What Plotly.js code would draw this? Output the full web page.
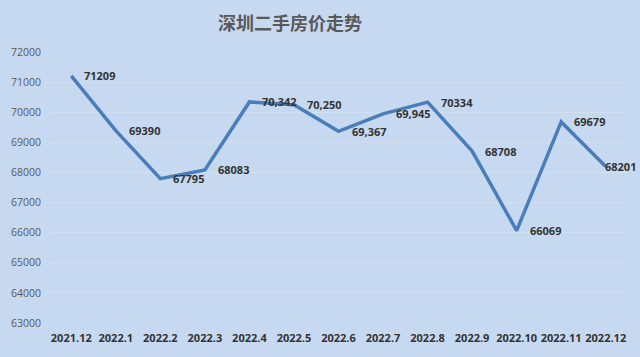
<!DOCTYPE html>
<html>
<head>
<meta charset="utf-8">
<script src="https://cdn.plot.ly/plotly-3.0.1.min.js"></script>
<style>
html,body{margin:0;padding:0;background:#c6d9f0;}
#chart{width:640px;height:357px;}
</style>
</head>
<body>
<div id="chart"></div>
<script>
const months = ["2021.12","2022.1","2022.2","2022.3","2022.4","2022.5","2022.6","2022.7","2022.8","2022.9","2022.10","2022.11","2022.12"];
const prices = [71209,69390,67795,68083,70342,70250,69367,69945,70334,68708,66069,69679,68201];
const priceLabels = ["71209","69390","67795","68083","70,342","70,250","69,367","69,945","70334","68708","66069","69679","68201"];
const yTicks = [63000,64000,65000,66000,67000,68000,69000,70000,71000,72000];
const chartTitle = "深圳二手房价走势";

const bg = "#c6d9f0";
const annotations = months.map((m, i) => ({
  x: i, y: prices[i], xref: "x", yref: "y",
  text: priceLabels[i], showarrow: false,
  xanchor: "left", yanchor: "middle",
  xshift: i === months.length - 1 ? -3 : 11,
  font: {family: "Open Sans, sans-serif", size: 11, color: "#333333", weight: 700}
}));

const trace = {
  x: months, y: prices, type: "scatter", mode: "lines",
  line: {color: "#4a7ebb", width: 3.5},
  hoverinfo: "skip"
};

const layout = {
  width: 640, height: 357,
  margin: {l: 49, r: 12, t: 52, b: 34},
  paper_bgcolor: bg, plot_bgcolor: bg,
  showlegend: false,
  title: {text: chartTitle, x: 0.453, xanchor: "center", y: 0.935, yanchor: "middle",
          font: {family: "Noto Sans CJK SC, sans-serif", size: 18, color: "#595959", weight: 700}},
  xaxis: {type: "category", categoryarray: months, categoryorder: "array",
          range: [-0.5, months.length - 0.5],
          showgrid: false, zeroline: false, showline: false, ticks: "",
          ticklabelstandoff: 7,
          tickfont: {family: "Open Sans, sans-serif", size: 11, color: "#333333", weight: 700}},
  yaxis: {range: [63000, 72000], tickvals: yTicks, ticktext: yTicks.map(String),
          showgrid: true, gridcolor: "#d0dff2", gridwidth: 1, zeroline: false, showline: false,
          ticks: "", ticklabelstandoff: 7,
          tickfont: {family: "Open Sans, sans-serif", size: 10.5, color: "#595959"}},
  annotations: annotations
};

Plotly.newPlot("chart", [trace], layout, {displayModeBar: false, staticPlot: true});
</script>
</body>
</html>
